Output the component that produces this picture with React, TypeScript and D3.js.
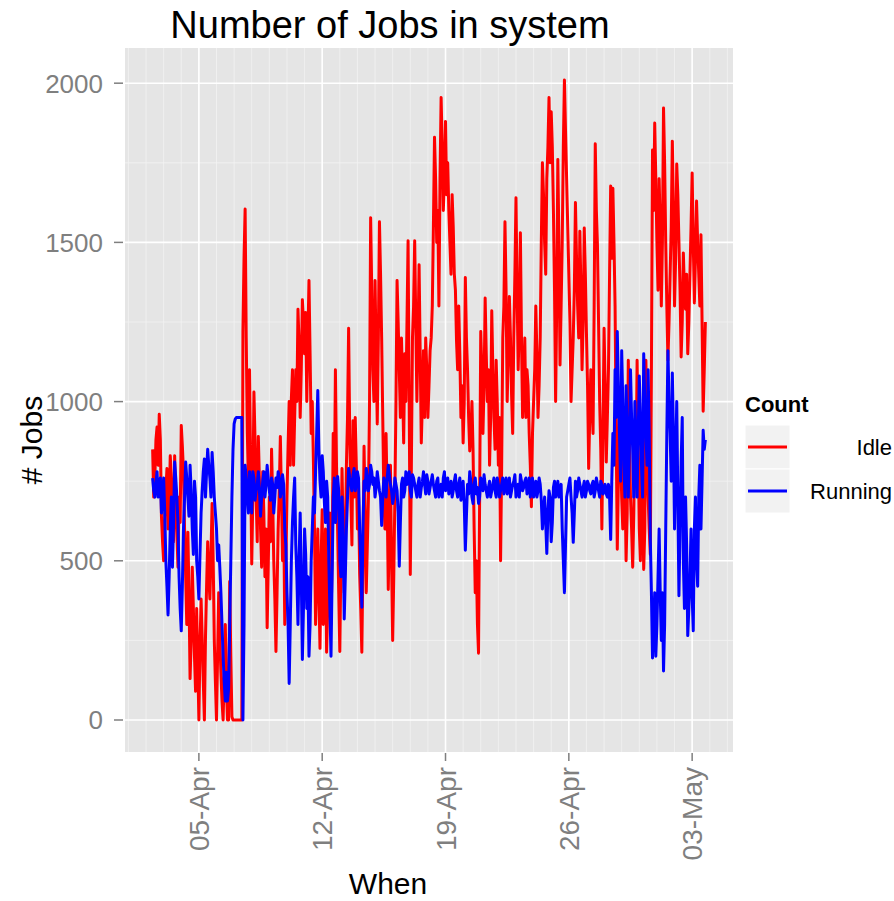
import * as d3 from "d3";
import * as React from "react";

// samples every 1.5 hours, starting 02-Apr 09:00
const START = Date.UTC(2012, 3, 2, 9);
const STEP_HOURS = 1.5;

const idle = [
  850, 700, 760, 880, 920, 800, 960, 880, 640, 560, 500, 640, 720, 790, 600, 680, 830, 760, 620, 560,
  830, 700, 590, 480, 700, 620, 925, 860, 780, 600, 450, 300, 590, 400, 130, 250, 480, 350, 200, 90,
  350, 180, 0, 230, 380, 260, 120, 0, 260, 420, 560, 450, 380, 520, 680, 500, 250, 120, 0, 200,
  400, 260, 150, 60, 0, 140, 300, 100, 0, 0, 435, 200, 10, 0, 0, 0, 0, 0, 0, 0,
  0, 0, 1220, 1450, 1605, 1200, 900, 750, 1100, 800, 490, 700, 1030, 880, 700, 560, 890, 750, 600, 480,
  780, 650, 450, 600, 290, 480, 700, 560, 850, 700, 500, 380, 215, 400, 600, 720, 890, 700, 500, 650,
  300, 480, 700, 860, 1000, 800, 1010, 1100, 800, 950, 1100, 1000, 1290, 1180, 950, 1100, 1320, 1250, 1150, 1280,
  1000, 1200, 1380, 1150, 900, 1000, 815, 600, 300, 450, 600, 400, 225, 500, 660, 300, 400, 600, 213, 350,
  500, 650, 300, 500, 900, 700, 1100, 800, 600, 400, 215, 500, 790, 600, 400, 550, 800, 950, 1230, 900,
  700, 550, 940, 700, 950, 800, 600, 700, 460, 350, 213, 500, 860, 650, 400, 550, 700, 1000, 1577, 1350,
  1100, 1000, 1380, 1150, 930, 1200, 1565, 1400, 1200, 950, 700, 600, 900, 700, 410, 600, 800, 500, 250, 450,
  700, 1000, 1380, 1250, 1100, 950, 1200, 1050, 870, 1150, 1000, 1250, 1505, 1000, 457, 800, 1200, 1300, 1505, 1250,
  1000, 1200, 1430, 1150, 870, 1000, 1160, 950, 1200, 1100, 950, 1050, 1160, 1200, 1300, 1550, 1830, 1700, 1500, 1600,
  1300, 1700, 1955, 1800, 1600, 1700, 1880, 1650, 1750, 1600, 1500, 1400, 1650, 1550, 1400, 1350, 1190, 1100, 1300, 1150,
  950, 1050, 870, 1000, 1390, 1200, 1100, 950, 845, 900, 1000, 850, 600, 400, 500, 300, 210, 700, 1220, 1100,
  900, 1050, 1325, 1150, 1000, 1100, 800, 950, 1285, 1100, 950, 850, 1130, 1000, 800, 950, 500, 800, 1200, 1300,
  1565, 1350, 1000, 1150, 1330, 1200, 1020, 900, 1200, 1400, 1640, 1350, 1100, 1250, 1530, 1200, 950, 1050, 1200, 950,
  1100, 1050, 900, 800, 670, 900, 1000, 1100, 1300, 1150, 950, 1050, 1200, 1500, 1750, 1650, 1500, 1400, 1700, 1800,
  1955, 1750, 1910, 1800, 1600, 1350, 1000, 1300, 1760, 1500, 1115, 1300, 1500, 1800, 2010, 1850, 1700, 1550, 1400, 1250,
  1000, 1100, 1200, 1350, 1625, 1450, 1300, 1200, 1535, 1350, 1100, 1250, 1545, 1400, 1215, 1050, 790, 950, 1100, 1000,
  900, 1300, 1810, 1600, 1490, 1250, 1000, 850, 600, 900, 1230, 1050, 810, 950, 1100, 1400, 1677, 1450, 1670, 1500,
  1300, 900, 536, 750, 1000, 850, 700, 600, 880, 750, 500, 650, 1130, 900, 700, 600, 480, 650, 900, 750,
  1130, 850, 600, 500, 880, 700, 473, 600, 1130, 850, 700, 600, 520, 1100, 1790, 1600, 1875, 1700, 1500, 1350,
  1700, 1550, 1300, 1500, 1922, 1750, 1500, 1300, 1130, 1250, 1400, 1550, 1818, 1600, 1300, 1450, 1746, 1650, 1500, 1350,
  1140, 1250, 1467, 1350, 1290, 1400, 1150, 1250, 1400, 1550, 1718, 1500, 1310, 1450, 1630, 1500, 1400, 1300, 1524, 1250,
  970, 1100, 1250,
];

const running = [
  760, 720, 700, 740, 780, 700, 740, 760, 650, 700, 760, 650, 500, 420, 330, 450, 600, 700, 480, 620,
  810, 760, 700, 620, 450, 350, 280, 420, 600, 700, 810, 760, 700, 640, 800, 720, 600, 520, 750, 700,
  500, 450, 380, 520, 650, 720, 780, 820, 700, 780, 850, 800, 760, 700, 840, 780, 700, 650, 600, 500,
  550, 480, 400, 300, 200, 120, 60, 150, 60, 100, 300, 500, 700, 850, 930, 945, 950, 950, 950, 950,
  950, 950, 0, 300, 800, 760, 700, 650, 780, 720, 650, 780, 760, 690, 720, 740, 780, 720, 640, 700,
  750, 780, 700, 740, 800, 760, 720, 690, 760, 740, 650, 700, 760, 730, 780, 760, 700, 720, 770, 740,
  600, 550, 400, 300, 115, 300, 500, 620, 700, 760, 550, 450, 300, 500, 650, 450, 190, 350, 600, 520,
  350, 450, 200, 300, 500, 600, 700, 650, 780, 900, 1035, 850, 750, 700, 830, 780, 680, 620, 750, 700,
  500, 350, 200, 450, 700, 760, 620, 700, 765, 720, 500, 450, 700, 600, 317, 450, 600, 700, 790, 760,
  740, 720, 770, 790, 720, 740, 780, 760, 600, 500, 354, 600, 750, 720, 790, 760, 720, 740, 800, 780,
  740, 760, 700, 730, 780, 750, 720, 700, 611, 700, 760, 740, 700, 760, 800, 770, 740, 720, 680, 700,
  760, 740, 720, 650, 483, 620, 740, 760, 700, 720, 780, 740, 760, 780, 720, 700, 770, 760, 740, 720,
  700, 740, 760, 700, 730, 750, 780, 740, 710, 770, 750, 710, 730, 750, 770, 740, 720, 700, 750, 760,
  700, 720, 740, 700, 760, 780, 720, 740, 760, 710, 730, 750, 700, 720, 750, 770, 720, 700, 740, 760,
  690, 720, 750, 680, 533, 640, 740, 710, 780, 750, 700, 680, 740, 760, 710, 730, 680, 700, 760, 740,
  720, 770, 740, 720, 700, 730, 750, 700, 720, 740, 760, 720, 700, 760, 740, 700, 720, 740, 760, 710,
  740, 760, 710, 730, 760, 700, 720, 740, 750, 770, 700, 720, 740, 700, 770, 750, 720, 730, 750, 760,
  710, 720, 760, 700, 730, 760, 700, 720, 750, 700, 720, 760, 740, 690, 600, 650, 700, 620, 523, 650,
  720, 700, 560, 620, 730, 750, 700, 720, 750, 700, 720, 740, 600, 500, 400, 550, 700, 720, 740, 760,
  700, 650, 558, 650, 750, 700, 720, 760, 740, 720, 700, 730, 750, 700, 720, 750, 740, 720, 710, 740,
  750, 700, 720, 760, 740, 720, 700, 750, 740, 710, 720, 740, 710, 700, 740, 700, 567, 750, 900, 800,
  1100, 950, 1220, 1050, 900, 750, 1160, 1000, 800, 700, 1050, 900, 700, 850, 1100, 950, 850, 700, 1000, 880,
  700, 900, 1080, 950, 800, 700, 1150, 1000, 900, 800, 1100, 900, 570, 400, 195, 300, 400, 200, 300, 450,
  600, 400, 250, 400, 154, 300, 600, 900, 1160, 1000, 900, 750, 1090, 900, 600, 800, 1000, 700, 390, 600,
  810, 950, 500, 350, 700, 550, 265, 350, 450, 600, 390, 280, 600, 700, 500, 420, 700, 800, 600, 750,
  910, 850, 880,
];

const seriesNames = ["Idle", "Running"];
const seriesColours = ["#ff0000", "#0000ff"];
const yTicks = [0, 500, 1000, 1500, 2000];
const xTickDates = ["2012-04-05", "2012-04-12", "2012-04-19", "2012-04-26", "2012-05-03"];

const App = () => {
  const width = 894;
  const height = 901;
  const panel = { left: 125, right: 733, top: 48, bottom: 752 };
  const font = "'Liberation Sans', Arial, sans-serif";
  const grey = "#7f7f7f";

  const times = idle.map((_, i) => new Date(START + i * STEP_HOURS * 36e5));
  const t0 = times[0].getTime();
  const t1 = times[times.length - 1].getTime();
  const padT = (t1 - t0) * 0.05;
  const x = d3
    .scaleUtc()
    .domain([new Date(t0 - padT), new Date(t1 + padT)])
    .range([panel.left, panel.right]);

  const yMax = d3.max([...idle, ...running]) as number;
  const padY = yMax * 0.05;
  const y = d3
    .scaleLinear()
    .domain([-padY, yMax + padY])
    .range([panel.bottom, panel.top]);

  const xTicks = xTickDates.map((d) => new Date(d + "T00:00:00Z"));
  const minorX = d3.utcDay.range(x.domain()[0], x.domain()[1]);
  const minorY = yTicks
    .slice(0, -1)
    .map((v, i) => (v + yTicks[i + 1]) / 2)
    .concat([yTicks[yTicks.length - 1] + 250]);
  const fmt = d3.utcFormat("%d-%b");

  const line = d3
    .line<number>()
    .x((_, i) => x(times[i]))
    .y((d) => y(d));

  const series = [idle, running];

  return (
    <svg
      width={width}
      height={height}
      style={{ position: "absolute", left: 0, top: 0, background: "white" }}
      fontFamily={font}
    >
      <text x={390} y={38} fontSize={38} textAnchor="middle" fill="#000">
        Number of Jobs in system
      </text>

      <rect
        x={panel.left}
        y={panel.top}
        width={panel.right - panel.left}
        height={panel.bottom - panel.top}
        fill="#e5e5e5"
      />
      <defs>
        <clipPath id="panel-clip">
          <rect
            x={panel.left}
            y={panel.top}
            width={panel.right - panel.left}
            height={panel.bottom - panel.top}
          />
        </clipPath>
      </defs>
      <g clipPath="url(#panel-clip)">
        {minorX.map((d, i) => (
          <line key={"mx" + i} x1={x(d)} x2={x(d)} y1={panel.top} y2={panel.bottom} stroke="#f2f2f2" strokeWidth={0.8} />
        ))}
        {minorY.map((v, i) => (
          <line key={"my" + i} x1={panel.left} x2={panel.right} y1={y(v)} y2={y(v)} stroke="#f2f2f2" strokeWidth={0.8} />
        ))}
        {xTicks.map((d, i) => (
          <line key={"gx" + i} x1={x(d)} x2={x(d)} y1={panel.top} y2={panel.bottom} stroke="#fff" strokeWidth={1.6} />
        ))}
        {yTicks.map((v, i) => (
          <line key={"gy" + i} x1={panel.left} x2={panel.right} y1={y(v)} y2={y(v)} stroke="#fff" strokeWidth={1.6} />
        ))}
        {series.map((s, k) => (
          <path
            key={seriesNames[k]}
            d={line(s) as string}
            fill="none"
            stroke={seriesColours[k]}
            strokeWidth={3}
            strokeLinejoin="round"
          />
        ))}
      </g>

      {/* y axis */}
      {yTicks.map((v) => (
        <g key={"yt" + v}>
          <line x1={panel.left - 11} x2={panel.left - 2} y1={y(v)} y2={y(v)} stroke={grey} strokeWidth={1.5} />
          <text x={panel.left - 22} y={y(v)} dy="0.36em" textAnchor="end" fontSize={26} fill={grey}>
            {v}
          </text>
        </g>
      ))}

      {/* x axis */}
      {xTicks.map((d, i) => (
        <g key={"xt" + i}>
          <line x1={x(d)} x2={x(d)} y1={panel.bottom + 1} y2={panel.bottom + 9} stroke={grey} strokeWidth={1.5} />
          <text
            transform={`translate(${x(d)},${panel.bottom + 15}) rotate(-90)`}
            dy="0.36em"
            textAnchor="end"
            fontSize={28}
            fill={grey}
          >
            {fmt(d)}
          </text>
        </g>
      ))}

      <text x={388} y={894} fontSize={30} textAnchor="middle" fill="#000">
        When
      </text>
      <text transform="translate(42,440) rotate(-90)" fontSize={30} textAnchor="middle" fill="#000">
        # Jobs
      </text>

      {/* legend */}
      <text x={745} y={412} fontSize={22} fontWeight="bold" fill="#000">
        Count
      </text>
      {seriesNames.map((name, k) => {
        const top = 425 + k * 44;
        return (
          <g key={"lg" + name}>
            <rect x={745} y={top} width={45} height={44} fill="#f2f2f2" stroke="#fff" strokeWidth={1} />
            <line x1={748} x2={787} y1={top + 22} y2={top + 22} stroke={seriesColours[k]} strokeWidth={3} />
            <text x={892} y={top + 22} dy="0.36em" textAnchor="end" fontSize={22} fill="#000">
              {name}
            </text>
          </g>
        );
      })}
    </svg>
  );
};

export default App;
